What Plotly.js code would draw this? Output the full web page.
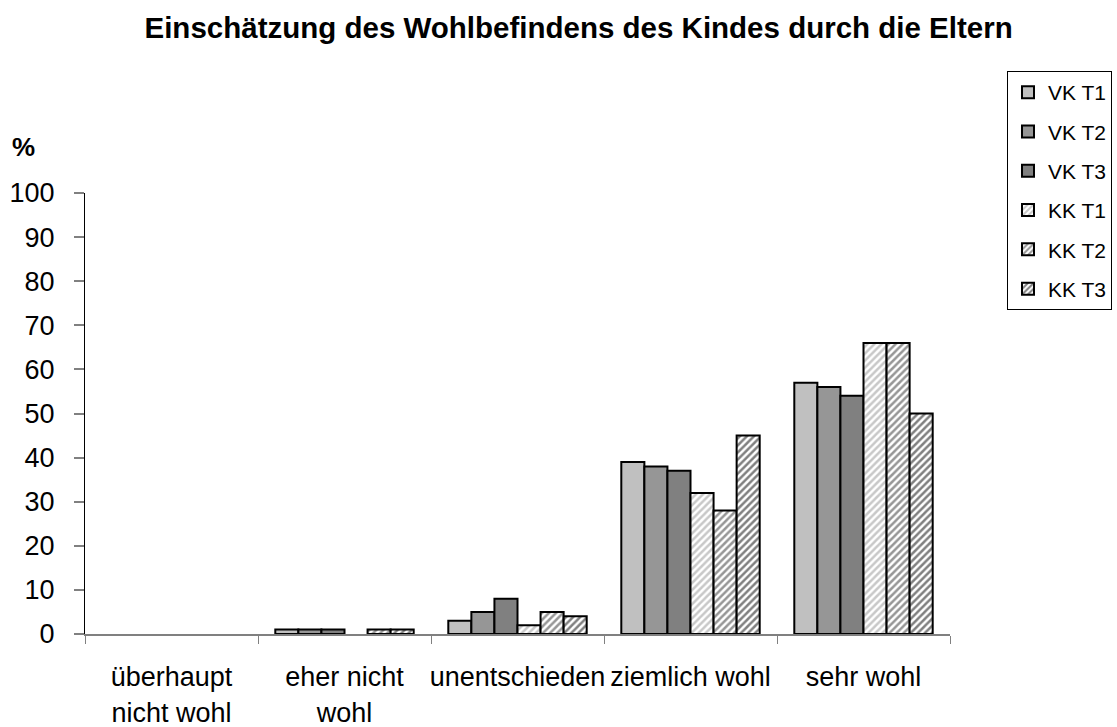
<!DOCTYPE html>
<html>
<head>
<meta charset="utf-8">
<script src="https://cdn.plot.ly/plotly-3.0.1.min.js"></script>
<style>
  html, body { margin: 0; padding: 0; background: #fff; }
  #chart { width: 1117px; height: 727px; }
</style>
</head>
<body>
<div id="chart"></div>
<script>
const categories = ["überhaupt<br>nicht wohl", "eher nicht<br>wohl", "unentschieden", "ziemlich wohl", "sehr wohl"];
const seriesNames = ["VK T1", "VK T2", "VK T3", "KK T1", "KK T2", "KK T3"];
const vkT1 = [0, 1, 3, 39, 57];
const vkT2 = [0, 1, 5, 38, 56];
const vkT3 = [0, 1, 8, 37, 54];
const kkT1 = [0, 0, 2, 32, 66];
const kkT2 = [0, 1, 5, 28, 66];
const kkT3 = [0, 1, 4, 45, 50];
const yTicks = [0, 10, 20, 30, 40, 50, 60, 70, 80, 90, 100];

const values = [vkT1, vkT2, vkT3, kkT1, kkT2, kkT3];
const solidColors = ["#c0c0c0", "#969696", "#808080"];
const stripeColors = ["#c8c8c8", "#969696", "#808080"];

const FONT = '"Liberation Sans", Arial, Helvetica, sans-serif';

const traces = values.map((v, i) => {
  const isKK = i >= 3;
  const marker = {
    line: { color: "#000000", width: 2 }
  };
  if (!isKK) {
    marker.color = solidColors[i];
  } else {
    marker.color = "#ffffff";
    marker.pattern = {
      shape: "/",
      fgcolor: stripeColors[i - 3],
      bgcolor: "#ffffff",
      size: 5,
      solidity: 0.5,
      fillmode: "replace"
    };
  }
  return {
    type: "bar",
    name: seriesNames[i],
    x: categories,
    // zero-valued bars are not drawn in the reference (no outline at the baseline)
    y: v.map(val => (val === 0 ? null : val)),
    marker: marker,
    legendgroup: "g" + i,
    hoverinfo: "x+y+name"
  };
});

const layout = {
  width: 1117,
  height: 727,
  paper_bgcolor: "#ffffff",
  plot_bgcolor: "#ffffff",
  font: { family: FONT, color: "#000000", size: 27 },
  margin: { l: 85, r: 167, t: 193, b: 93, autoexpand: false },
  title: {
    text: "<b>Einschätzung des Wohlbefindens des Kindes durch die Eltern</b>",
    font: { family: FONT, size: 29.5, color: "#000000" },
    xref: "container", yref: "container",
    x: 0.518, xanchor: "center",
    y: 1 - 28 / 727, yanchor: "middle"
  },
  barmode: "group",
  bargap: 0.2,
  bargroupgap: 0,
  showlegend: true,
  legend: {
    x: 1007 / 1117, xref: "container", xanchor: "left",
    y: 1 - 71 / 727, yref: "container", yanchor: "top",
    bordercolor: "#000000", borderwidth: 1,
    bgcolor: "#ffffff",
    font: { family: FONT, size: 21, color: "#000000" },
    traceorder: "grouped",
    tracegroupgap: 9
  },
  xaxis: {
    type: "category",
    tickson: "boundaries",
    ticks: "outside",
    ticklen: 8,
    tickcolor: "#808080",
    tickwidth: 1,
    tickangle: 0,
    showline: true,
    linecolor: "#808080",
    linewidth: 2,
    showgrid: false,
    zeroline: false,
    ticklabelstandoff: 18,
    tickfont: { family: FONT, size: 27, color: "#000000" },
    range: [-0.5, 4.5]
  },
  yaxis: {
    range: [0, 100],
    tickmode: "array",
    tickvals: yTicks,
    ticktext: yTicks.map(String),
    ticks: "outside",
    ticklen: 10,
    tickcolor: "#808080",
    tickwidth: 2,
    showline: true,
    linecolor: "#000000",
    linewidth: 1,
    showgrid: false,
    zeroline: false,
    ticklabelstandoff: 14,
    tickfont: { family: FONT, size: 27, color: "#000000" }
  },
  annotations: [{
    text: "<b>%</b>",
    xref: "paper", yref: "paper",
    x: -85 / 865 + 10 / 865, xanchor: "left",
    y: 1 + (193 - 147) / 441, yanchor: "middle",
    showarrow: false,
    font: { family: FONT, size: 26, color: "#000000" }
  }]
};

Plotly.newPlot("chart", traces, layout, { displayModeBar: false, responsive: false });
</script>
</body>
</html>
